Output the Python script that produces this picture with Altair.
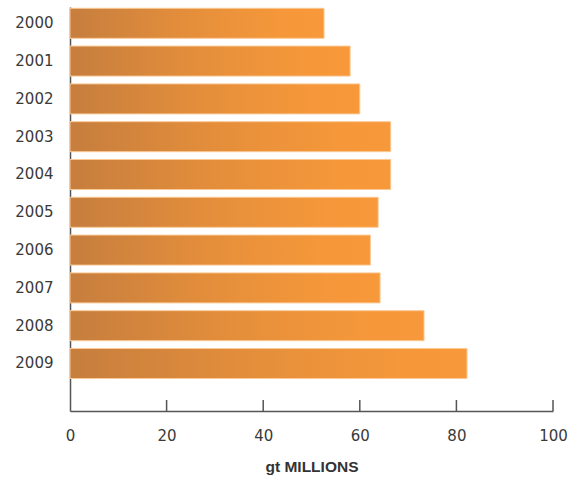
import altair as alt
import pandas as pd

years = ["2000", "2001", "2002", "2003", "2004", "2005", "2006", "2007", "2008", "2009"]
values = [52.6, 58.0, 60.0, 66.4, 66.4, 63.8, 62.2, 64.2, 73.3, 82.2]
tick_values = [20, 40, 60, 80, 100]

df = pd.DataFrame({"year": years, "value": values})
ticks_df = pd.DataFrame({"t": tick_values})

LABEL_FONT = "DejaVu Sans"
TITLE_FONT = "Liberation Sans"
AXIS_COLOR = "#555555"

xscale = alt.Scale(domain=[0, 100], nice=False)

gradient = alt.LinearGradient(
    gradient="linear",
    stops=[
        alt.GradientStop(color="#C67E3E", offset=0),
        alt.GradientStop(color="#E48E3B", offset=0.45),
        alt.GradientStop(color="#F6983A", offset=0.85),
        alt.GradientStop(color="#F7993A", offset=1),
    ],
    x1=0, x2=1, y1=0, y2=0,
)

bars = alt.Chart(df).mark_bar(
    fill=gradient, stroke="#FAC995", strokeWidth=1
).encode(
    x=alt.X(
        "value:Q",
        scale=xscale,
        axis=alt.Axis(
            values=[0, 20, 40, 60, 80, 100],
            title="gt MILLIONS",
            titleFont=TITLE_FONT,
            titleFontSize=15.5,
            titleFontWeight="bold",
            titleColor="#333333",
            titlePadding=16,
            labelFont=LABEL_FONT,
            labelFontSize=15,
            labelColor="#3a3a3a",
            labelPadding=17,
            labelFlush=False,
            ticks=False,
            grid=False,
            domainColor=AXIS_COLOR,
            domainWidth=1.5,
        ),
    ),
    y=alt.Y(
        "year:N",
        sort=years,
        scale=alt.Scale(paddingInner=0.206, paddingOuter=0.447, align=0.038),
        axis=alt.Axis(
            title=None,
            labelFont=LABEL_FONT,
            labelFontSize=15,
            labelColor="#3a3a3a",
            labelPadding=17,
            ticks=False,
            grid=False,
            domainColor=AXIS_COLOR,
            domainWidth=1.5,
        ),
    ),
)

tick_marks = alt.Chart(ticks_df).mark_rule(color=AXIS_COLOR, strokeWidth=1.5).encode(
    x=alt.X("t:Q", scale=xscale),
    y=alt.value(393),
    y2=alt.value(404),
)

chart = alt.layer(bars, tick_marks).properties(
    width=483,
    height=404,
    padding={"left": 70, "top": 7, "right": 23, "bottom": 70},
    autosize=alt.AutoSizeParams(type="none"),
).configure_view(stroke=None)

chart.save("out.html", embed_options={"renderer": "svg", "actions": False})
